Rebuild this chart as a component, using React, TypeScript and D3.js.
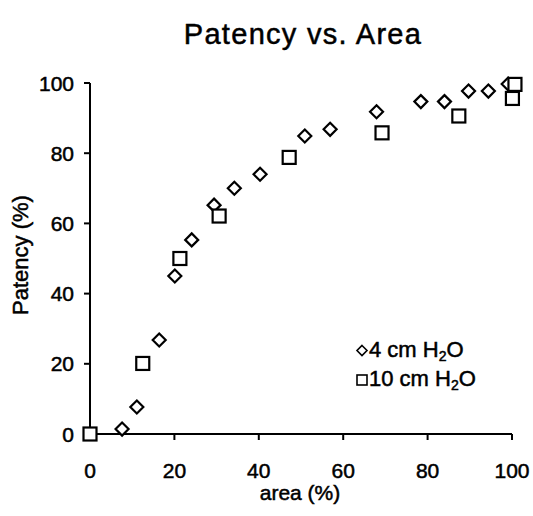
import React from "react";
import * as d3 from "d3";

const area4 = [7.6, 11.1, 16.4, 20.1, 24.1, 29.4, 34.2, 40.3, 50.9, 56.9, 67.9, 78.4, 84.0, 89.7, 94.4, 99.1];
const patency4 = [1.4, 7.7, 26.8, 45.0, 55.3, 65.2, 70.0, 74.0, 84.9, 86.8, 91.8, 94.7, 94.7, 97.7, 97.7, 99.7];
const area10 = [0, 12.5, 21.3, 30.6, 47.2, 69.2, 87.4, 100.1, 100.7];
const patency10 = [0, 20.1, 50.0, 62.1, 78.8, 85.8, 90.6, 95.6, 99.6];
const xTicks = [0, 20, 40, 60, 80, 100];
const yTicks = [0, 20, 40, 60, 80, 100];
const seriesNames = ["4 cm H", "10 cm H"];

const FONT = "'Liberation Sans', Arial, Helvetica, sans-serif";

function diamond(cx: number, cy: number, r: number) {
  return `M${cx},${cy - r}L${cx + r},${cy}L${cx},${cy + r}L${cx - r},${cy}Z`;
}

export default function App() {
  const x = d3.scaleLinear().domain([0, 100]).range([90, 512]);
  const y = d3.scaleLinear().domain([0, 100]).range([434, 83]);
  const sq = 13;
  const heavy = { stroke: "#000", strokeWidth: 0.5 };

  return (
    <svg
      width={533}
      height={516}
      style={{ position: "absolute", left: 0, top: 0, background: "#fff" }}
      fontFamily={FONT}
    >
      <rect x={0} y={0} width={533} height={516} fill="#fff" />
      <text x={303} y={44} fontSize={29} textAnchor="middle" letterSpacing={1.3} fill="#000" {...heavy}>
        Patency vs. Area
      </text>

      {/* axes */}
      <line x1={x(0)} x2={x(0)} y1={y(0)} y2={y(100)} stroke="#000" strokeWidth={2} />
      <line x1={x(0)} x2={x(100)} y1={y(0)} y2={y(0)} stroke="#000" strokeWidth={2} />
      {yTicks.map((t) => (
        <g key={"y" + t}>
          <line x1={x(0) - 6} x2={x(0)} y1={y(t)} y2={y(t)} stroke="#000" strokeWidth={2} />
          <text x={x(0) - 16} y={y(t)} dy="0.36em" fontSize={21} textAnchor="end" fill="#000" {...heavy}>
            {t}
          </text>
        </g>
      ))}
      {xTicks.map((t) => (
        <g key={"x" + t}>
          <line x1={x(t)} x2={x(t)} y1={y(0)} y2={y(0) + 6} stroke="#000" strokeWidth={2} />
          <text x={x(t)} y={478} fontSize={21} textAnchor="middle" fill="#000" {...heavy}>
            {t}
          </text>
        </g>
      ))}

      <text x={300} y={500} fontSize={21} textAnchor="middle" fill="#000" {...heavy}>
        area (%)
      </text>
      <text
        transform="translate(28,255) rotate(-90)"
        fontSize={22}
        textAnchor="middle"
        fill="#000"
        {...heavy}
      >
        Patency (%)
      </text>

      {/* series 4 cm */}
      {area4.map((a, i) => (
        <path
          key={"d" + i}
          d={diamond(x(a), y(patency4[i]), 6.5)}
          fill="#fff"
          stroke="#000"
          strokeWidth={2.2}
        />
      ))}
      {/* series 10 cm */}
      {area10.map((a, i) => (
        <rect
          key={"s" + i}
          x={x(a) - sq / 2}
          y={y(patency10[i]) - sq / 2}
          width={sq}
          height={sq}
          fill="#fff"
          stroke="#000"
          strokeWidth={2.2}
        />
      ))}

      {/* legend */}
      <path d={diamond(362, 350.5, 5)} fill="#fff" stroke="#000" strokeWidth={1.6} />
      <text x={369} y={357} fontSize={22} fill="#000" {...heavy}>
        {seriesNames[0]}
        <tspan fontSize={14} dy={4}>2</tspan>
        <tspan dy={-4}>O</tspan>
      </text>
      <rect x={357} y={375} width={10} height={10} fill="#fff" stroke="#000" strokeWidth={1.6} />
      <text x={369} y={386} fontSize={22} fill="#000" {...heavy}>
        {seriesNames[1]}
        <tspan fontSize={14} dy={4}>2</tspan>
        <tspan dy={-4}>O</tspan>
      </text>
    </svg>
  );
}
